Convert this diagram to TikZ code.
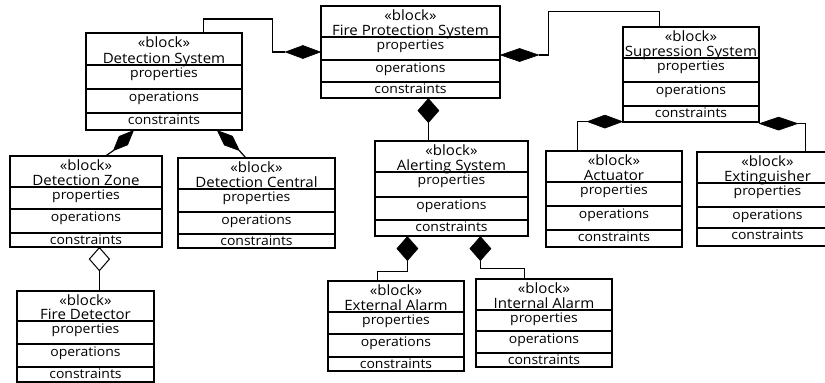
\documentclass[tikz,border=0pt]{standalone}
\usepackage{fontspec}
\setmainfont[FakeStretch=1.06]{Open Sans}
\usetikzlibrary{calc,fit}

\tikzset{
  box/.style={draw, line width=1.2pt, fill=white, inner sep=0pt},
  rule/.style={line width=1.2pt},
  lbl/.style={font=\fontsize{13.2}{14}\selectfont, inner sep=0pt},
  ttl/.style={font=\fontsize{14.2}{15}\selectfont, inner sep=0pt},
  link/.style={line width=1.2pt},
  solid head/.style={fill=black, draw=black, line width=0.6pt, line join=miter},
  hollow head/.style={fill=white, draw=black, line width=1pt, line join=miter},
}

% SysML block: name, left, top, right, bottom, three compartment rules, title
\newcommand\umlblock[9]{%
  \node[box, fit={(#2,#3) (#4,#5)}] (#1) {};
  \draw[rule] (#2,#6) -- (#4,#6) (#2,#7) -- (#4,#7) (#2,#8) -- (#4,#8);
  \node[ttl, anchor=base] (#1-st) at ({(#2+#4)/2},{#3+14.8}) {«block»};
  \node[ttl, anchor=base] (#1-nm) at ({(#2+#4)/2},{#6-1.5}) {#9};
  \node[lbl, anchor=base] (#1-pr) at ({(#2+#4)/2},{#6+12}) {properties};
  \node[lbl, anchor=base] (#1-op) at ({(#2+#4)/2},{#7+12}) {operations};
  \node[lbl, anchor=base] (#1-co) at ({(#2+#4)/2},{#8+11.5}) {constraints};
}

% diamond head between two named points, given half width
\newcommand\comphead[4]{%
  \filldraw[#1] (#2) -- ($(#2)!0.5!(#3)!#4!90:(#3)$) -- (#3)
    -- ($(#2)!0.5!(#3)!#4!-90:(#3)$) -- cycle;
}

\begin{document}
\begin{tikzpicture}[x=1pt, y=-1pt]
\useasboundingbox (0,0) rectangle (825,383);

% blocks
\umlblock{fps}{321}{6}{500}{98}{37}{60}{82}{Fire Protection System}
\umlblock{dsys}{86}{33}{242}{130}{65}{89}{113}{Detection System}
\umlblock{supp}{623}{27}{759}{122}{58}{82}{106}{Supression System}
\umlblock{dzone}{10}{156}{162}{247}{187}{209}{233}{Detection Zone}
\umlblock{dcentral}{178}{158}{335}{248}{189}{212}{234}{Detection Central}
\umlblock{alert}{375}{141}{528}{236}{172}{197}{220}{Alerting System}
\umlblock{actu}{546}{151}{682}{247}{182}{206}{230}{Actuator}
\umlblock{exting}{697}{152}{838}{246}{183}{207}{228}{Extinguisher}
\umlblock{fdet}{17}{291}{154}{382}{321}{344}{367}{Fire Detector}
\umlblock{extal}{328}{281}{464}{371}{312}{334}{357}{External Alarm}
\umlblock{intal}{476}{279}{612}{367}{310}{331}{353}{Internal Alarm}

% Detection System -> Fire Protection System
\coordinate (w0) at (fps.west);
\coordinate (w1) at ($(w0)+(-35,0)$);
\draw[link] ($(dsys.north west)+(118,0)$) |- ($(w0)+(-48,-33)$) -- ($(w0)+(-48,0)$) -- (w1);
\comphead{solid head}{w0}{w1}{6.5pt}

% Supression System -> Fire Protection System
\coordinate (e0) at ($(fps.east)+(0,3)$);
\coordinate (e1) at ($(e0)+(38,0)$);
\draw[link] (e1) -- ++(10,0) |- ($(supp.north west)+(37,-15)$) -- ($(supp.north west)+(37,0)$);
\comphead{solid head}{e0}{e1}{6.5pt}

% Alerting System -> Fire Protection System
\coordinate (a0) at ($(fps.south west)+(108,0)$);
\coordinate (a1) at ($(a0)+(0,24)$);
\draw[link] (a1) -- (a1 |- alert.north);
\comphead{solid head}{a0}{a1}{10.5pt}

% Detection Zone -> Detection System
\coordinate (p0) at ($(dsys.south west)+(48,0)$);
\coordinate (p1) at ($(p0)+(-20,20)$);
\draw[link] (p1) -- ($(dzone.north west)+(97,0)$);
\comphead{solid head}{p0}{p1}{6pt}

% Detection Central -> Detection System
\coordinate (q0) at ($(dsys.south west)+(132,0)$);
\coordinate (q1) at ($(q0)+(22,20)$);
\draw[link] (q1) -- ($(dcentral.north west)+(68,0)$);
\comphead{solid head}{q0}{q1}{6pt}

% Fire Detector -> Detection Zone (shared aggregation)
\coordinate (h0) at ($(dzone.south west)+(90,0)$);
\coordinate (h1) at ($(h0)+(0,23)$);
\draw[link] (h1) -- (h1 |- fdet.north);
\comphead{hollow head}{h0}{h1}{10pt}

% External Alarm -> Alerting System
\coordinate (x0) at ($(alert.south west)+(33,0)$);
\coordinate (x1) at ($(x0)+(0,24)$);
\draw[link] (x1) -- ++(0,11) -| ($(extal.north west)+(50,0)$);
\comphead{solid head}{x0}{x1}{10.5pt}

% Internal Alarm -> Alerting System
\coordinate (i0) at ($(alert.south west)+(106,0)$);
\coordinate (i1) at ($(i0)+(0,24)$);
\draw[link] (i1) -- ++(0,8) -| ($(intal.north west)+(49,0)$);
\comphead{solid head}{i0}{i1}{10.5pt}

% Actuator -> Supression System
\coordinate (s0) at ($(supp.south west)+(0,-1)$);
\coordinate (s1) at ($(s0)+(-35,0)$);
\draw[link] (s1) -| ($(actu.north west)+(32,0)$);
\comphead{solid head}{s0}{s1}{6.5pt}

% Extinguisher -> Supression System
\coordinate (t0) at ($(supp.south east)+(0,1)$);
\coordinate (t1) at ($(t0)+(38,0)$);
\draw[link] (t1) -| ($(exting.north west)+(109,0)$);
\comphead{solid head}{t0}{t1}{6.5pt}
\end{tikzpicture}
\end{document}
